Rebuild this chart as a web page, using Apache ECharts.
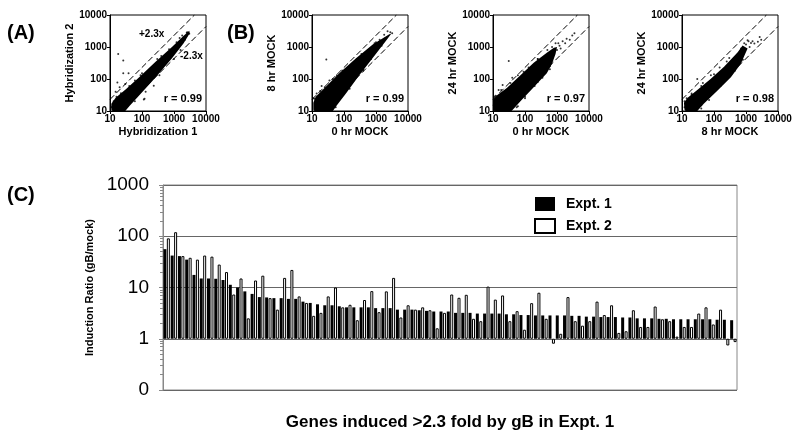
<!DOCTYPE html>
<html>
<head>
<meta charset="utf-8">
<script src="https://cdn.jsdelivr.net/npm/echarts@6/dist/echarts.min.js"></script>
<style>html,body{margin:0;padding:0;background:#fff}#chart{width:800px;height:440px}</style>
</head>
<body>
<div id="chart"></div>
<script>
var FONT = '"Liberation Sans", Arial, sans-serif';

// panel C: genes induced > 2.3 fold (ratios, gB/mock)
var genes = [];
for (var g = 1; g <= 79; g++) genes.push('gene ' + g);
var expt1 = [56,42,41,35,17.6,15,15,14.8,14,11.3,10,8.4,7.5,6.5,6.4,6.2,6.2,6,6,5.3,
  5.0,4.7,4.5,4.5,4.3,4.1,4.1,4.1,4.1,3.96,3.96,3.96,3.7,3.7,3.7,3.6,3.5,3.4,3.4,3.4,
  3.2,3.2,3.2,3.1,3.1,3.1,3.1,3.0,3.0,2.9,2.9,2.85,2.85,2.85,2.85,2.85,2.8,2.8,2.7,2.7,
  2.65,2.65,2.65,2.6,2.6,2.5,2.5,2.5,2.45,2.45,2.4,2.4,2.4,2.4,2.4,2.4,2.35,2.35,2.3];
var expt2 = [91,120,41,38,35,42,40,28,20,7.3,15,2.5,13.7,17,6.2,3.7,15.4,22,6.7,5.0,
  2.8,3.2,6.7,10,4.1,4.6,2.3,5.7,8.5,3.3,8.4,15.4,2.6,4.5,3.7,4.1,3.6,1.6,3.2,7.3,
  6.3,7.2,2.45,2.2,10.4,5.8,7.0,2.2,3.45,1.5,4.95,7.9,2.45,0.8,1.25,6.5,2.2,1.8,2.2,5.3,
  2.9,4.5,1.3,1.4,3.6,1.7,1.7,4.25,2.4,2.2,1.1,1.7,1.7,3.1,4.1,1.9,3.7,0.74,0.86];
var ratioTicks = [0.1, 1, 10, 100, 1000];

// scatter panels: outline of the dense cloud + loose points
var cloudA = [[11,11],[11,17],[15,26],[30,46],[80,112],[260,340],[880,1020],[2000,2250],[3000,3200],
  [3100,2700],[2000,1300],[880,450],[260,110],[80,30],[40,14],[30,10],[12,10]];
var ptsA = [[18,600],[26,380],[26,150],[38,150],[17,78],[114,23],[120,24],[233,61],[15,40],[20,55],[30,70],[45,28],[70,38],
  [150,90],[90,130],[300,420],[700,850],[1500,1900],[2500,2800],[400,260],[800,560],[2200,1700],[12,14],[60,90],[1800,2300],[3000,2600],
  [13,20],[16,28],[22,36],[40,60],[50,25],[35,14],[100,150],[150,70],[400,520],[500,280],[1200,1400],[1300,900],[2600,2900],[11,13],
  [60,20],[130,40],[350,130],[1000,420],[1600,800]];
var cloudB = [[11,11],[11,18],[13,28],[27,57],[71,150],[237,445],[790,1190],[2600,2500],[3000,2600],
  [2000,1500],[790,450],[300,130],[115,35],[60,15],[45,10],[12,10]];
var ptsB = [[28,410],[14,35],[20,60],[35,90],[60,130],[15,10.5],[50,15],[100,45],[200,90],[400,200],[160,260],[500,700],
  [900,1300],[1300,1700],[1800,2400],[2300,3100],[2000,1900],[1000,800],[700,420],[80,40],[30,12],[11,25],
  [12,24],[18,42],[25,55],[45,100],[90,180],[55,13],[150,50],[400,180],[350,600],[1000,1400],[1500,1100],[2800,2900],[3200,2700]];
var cloudC = [[10.5,11],[10.5,24],[14,32],[27,52],[72,130],[187,320],[480,660],[800,950],[1000,1000],
  [900,600],[700,300],[480,150],[187,55],[72,20],[45,12],[38,10],[11,10]];
var ptsC = [[31,365],[12,30],[15,45],[20,65],[40,110],[60,130],[130,230],[250,420],[100,25],[200,60],[350,110],[600,250],
  [700,1000],[900,1300],[1200,1100],[1500,1500],[2000,1800],[2500,1700],[3000,2300],[3500,2700],[1800,1300],[1300,900],[60,14],[30,10.5],[10.5,15],
  [11,28],[18,45],[35,75],[90,170],[250,420],[55,13],[100,28],[250,80],[600,200],[500,800],[800,600],[1000,800],[1100,1300]];
var cloudD = [[12,11],[11.5,18],[15,26],[30,45],[78,100],[206,240],[550,690],[780,1110],
  [1120,890],[690,300],[337,113],[127,43],[48,17],[30,10],[13,10]];
var ptsD = [[30,100],[14,25],[20,32],[45,75],[80,130],[150,230],[300,450],[40,15],[100,45],[200,90],[500,280],[880,1300],
  [1120,1630],[1430,1340],[1830,1280],[2350,1470],[2990,1700],[2680,2060],[1300,1000],[1600,1500],[700,900],[25,10.5],[12,13],
  [12,20],[20,35],[40,60],[100,140],[250,350],[40,12],[70,22],[160,60],[450,180],[800,400],[1000,1200],[1200,1500]];
var foldUp = [[10,23],[4348,10000]];
var foldDown = [[23,10],[10000,4348]];

var panels = [
  {x: 'Hybridization 1', y: 'Hybridization 2', left: 110, cloud: cloudA, pts: ptsA, r: 'r = 0.99'},
  {x: '0 hr MOCK', y: '8 hr MOCK', left: 312, cloud: cloudB, pts: ptsB, r: 'r = 0.99'},
  {x: '0 hr MOCK', y: '24 hr MOCK', left: 493, cloud: cloudC, pts: ptsC, r: 'r = 0.97'},
  {x: '8 hr MOCK', y: '24 hr MOCK', left: 682, cloud: cloudD, pts: ptsD, r: 'r = 0.98'}
];

function logAxis(gi, name, gap) {
  return {
    type: 'log', gridIndex: gi, min: 10, max: 10000, logBase: 10,
    name: name, nameLocation: 'middle', nameGap: gap,
    nameTextStyle: {fontFamily: FONT, fontWeight: 'bold', fontSize: 11, color: '#000'},
    axisLine: {show: true, lineStyle: {color: '#000', width: 1}},
    axisTick: {show: true, length: 3, lineStyle: {color: '#000'}},
    axisLabel: {fontFamily: FONT, fontWeight: 'bold', fontSize: 10, color: '#000', margin: 3,
      formatter: function (v) { return String(Math.round(v)); }},
    splitLine: {show: false}
  };
}

var grids = [], xAxes = [], yAxes = [], series = [], graphics = [];
panels.forEach(function (p, i) {
  grids.push({left: p.left, top: 15, width: 96, height: 96, show: true, borderColor: '#000', borderWidth: 1});
  xAxes.push(logAxis(i, p.x, 15));
  yAxes.push(logAxis(i, p.y, 34));
  var outline = p.cloud;
  series.push({
    type: 'custom', xAxisIndex: i, yAxisIndex: i, data: outline, silent: true,
    renderItem: function (params, api) {
      if (params.dataIndex !== 0) return null;
      var poly = outline.map(function (q) { return api.coord(q); });
      return {type: 'polygon', shape: {points: poly}, style: {fill: '#000'}};
    }
  });
  series.push({type: 'scatter', xAxisIndex: i, yAxisIndex: i, data: p.pts, symbolSize: 2,
    itemStyle: {color: '#000'}, silent: true});
  [foldUp, foldDown].forEach(function (d) {
    series.push({type: 'line', xAxisIndex: i, yAxisIndex: i, data: d, symbol: 'none', silent: true,
      lineStyle: {color: '#000', width: 1, type: [6, 3]}});
  });
  graphics.push({type: 'text', right: 800 - (p.left + 96) + 4, top: 93,
    style: {text: p.r, font: 'bold 11px ' + FONT, fill: '#000'}});
});

// bar panel
grids.push({left: 163, top: 185, width: 574, height: 205, show: true, borderColor: '#888', borderWidth: 1});
xAxes.push({
  type: 'category', gridIndex: 4, data: genes,
  name: 'Genes induced >2.3 fold by gB in Expt. 1', nameLocation: 'middle', nameGap: 24,
  nameTextStyle: {fontFamily: FONT, fontWeight: 'bold', fontSize: 17, color: '#000'},
  axisLine: {show: false}, axisTick: {show: false}, axisLabel: {show: false}
});
yAxes.push({
  type: 'log', gridIndex: 4, min: ratioTicks[0], max: ratioTicks[ratioTicks.length - 1], logBase: 10,
  name: 'Induction Ratio (gB/mock)', nameLocation: 'middle', nameGap: 64,
  nameTextStyle: {fontFamily: FONT, fontWeight: 'bold', fontSize: 11, color: '#000'},
  axisLine: {show: true, lineStyle: {color: '#888'}},
  axisTick: {show: true, length: 4, lineStyle: {color: '#888'}},
  minorTick: {show: true, splitNumber: 9, length: 3, lineStyle: {color: '#888'}},
  axisLabel: {fontFamily: FONT, fontSize: 19, color: '#000', margin: 14,
    formatter: function (v) { return v < 1 ? '0' : String(Math.round(v)); }},
  splitLine: {show: true, lineStyle: {color: '#666', width: 1}}
});
series.push({type: 'bar', name: 'Expt. 1', xAxisIndex: 4, yAxisIndex: 4, data: expt1,
  barWidth: 3, barGap: '15%', itemStyle: {color: '#000'}});
series.push({type: 'bar', name: 'Expt. 2', xAxisIndex: 4, yAxisIndex: 4, data: expt2,
  barWidth: 3, itemStyle: {color: '#fff', borderColor: '#000', borderWidth: 1}});

graphics.push({type: 'text', left: 7, top: 23, style: {text: '(A)', font: 'bold 20px ' + FONT, fill: '#000'}});
graphics.push({type: 'text', left: 227, top: 23, style: {text: '(B)', font: 'bold 20px ' + FONT, fill: '#000'}});
graphics.push({type: 'text', left: 7, top: 185, style: {text: '(C)', font: 'bold 20px ' + FONT, fill: '#000'}});
graphics.push({type: 'text', left: 139, top: 29, style: {text: '+2.3x', font: 'bold 10px ' + FONT, fill: '#000'}});
graphics.push({type: 'text', left: 180, top: 51, style: {text: '-2.3x', font: 'bold 10px ' + FONT, fill: '#000'}});

var myChart = echarts.init(document.getElementById('chart'));
myChart.setOption({
  animation: false,
  backgroundColor: '#fff',
  grid: grids,
  xAxis: xAxes,
  yAxis: yAxes,
  legend: {
    data: ['Expt. 1', 'Expt. 2'], left: 529, top: 192, orient: 'vertical', icon: 'rect',
    itemWidth: 20, itemHeight: 14, itemGap: 7,
    textStyle: {fontFamily: FONT, fontWeight: 'bold', fontSize: 14, color: '#000', padding: [0, 0, 0, 6]}
  },
  graphic: graphics,
  series: series
});
window.onresize = myChart.resize;
</script>
</body>
</html>
